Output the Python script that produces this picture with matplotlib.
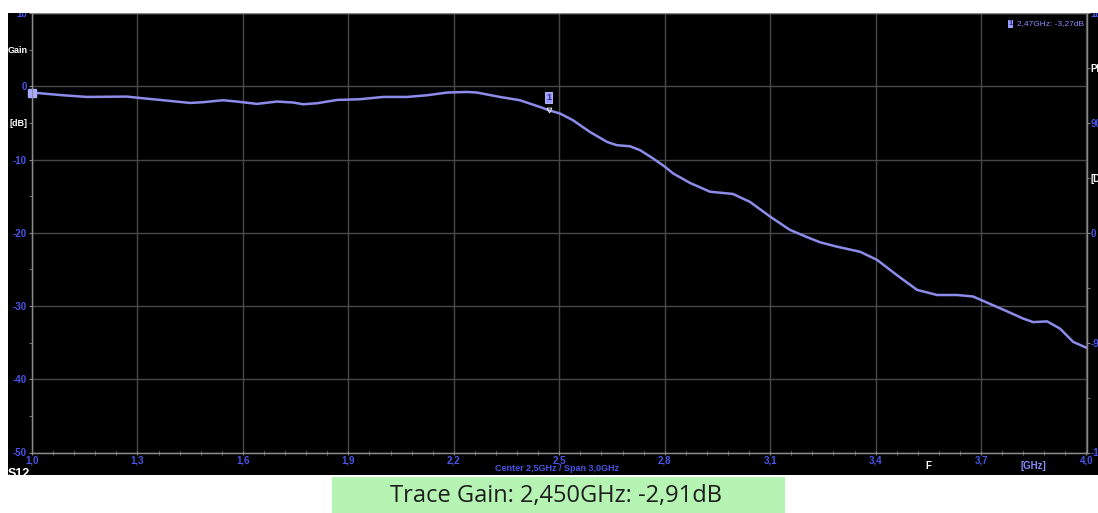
import matplotlib
matplotlib.use("Agg")
import matplotlib.pyplot as plt
from matplotlib.patches import Rectangle
from matplotlib.transforms import blended_transform_factory
import numpy as np

# Gain trace (frequency in GHz, gain in dB)
freq_ghz = [1.000, 1.088, 1.156, 1.270, 1.307, 1.373, 1.450, 1.486, 1.543, 1.583,
            1.640, 1.697, 1.743, 1.771, 1.811, 1.868, 1.933, 1.999, 2.067, 2.124,
            2.181, 2.238, 2.266, 2.331, 2.388, 2.450, 2.470, 2.502, 2.539, 2.587,
            2.636, 2.664, 2.701, 2.730, 2.767, 2.801, 2.824, 2.872, 2.929, 2.994,
            3.043, 3.100, 3.156, 3.205, 3.242, 3.290, 3.356, 3.404, 3.461, 3.518,
            3.575, 3.632, 3.677, 3.725, 3.782, 3.819, 3.848, 3.888, 3.925, 3.962,
            4.000]
gain_db = [-0.86, -1.23, -1.46, -1.41, -1.60, -1.91, -2.28, -2.18, -1.91, -2.09,
           -2.41, -2.09, -2.22, -2.46, -2.32, -1.87, -1.77, -1.46, -1.46, -1.23,
           -0.86, -0.78, -0.86, -1.46, -1.91, -2.91, -3.27, -3.72, -4.64, -6.23,
           -7.60, -8.05, -8.19, -8.73, -9.86, -11.0, -11.9, -13.2, -14.4, -14.7,
           -15.8, -17.8, -19.6, -20.6, -21.3, -21.9, -22.6, -23.7, -25.8, -27.8,
           -28.5, -28.5, -28.7, -29.7, -30.9, -31.7, -32.2, -32.1, -33.1, -34.9,
           -35.7]

marker_freq = 2.47
marker_gain = -3.27
readout_freq = 2.45
readout_gain = -2.91

x_major = [1.0, 1.3, 1.6, 1.9, 2.2, 2.5, 2.8, 3.1, 3.4, 3.7, 4.0]
x_labels = ["1,0", "1,3", "1,6", "1,9", "2,2", "2,5", "2,8", "3,1", "3,4", "3,7", "4,0"]
y_major = [-50, -40, -30, -20, -10, 0, 10]
y_labels = ["-50", "-40", "-30", "-20", "-10", "0", "10"]
y_minor = [-45, -35, -25, -15, -5, 5]
y_minor_labels = ["", "", "", "", "[dB]", "Gain"]
ph_major = [-180, -90, 0, 90, 180]
ph_labels = ["-180", "-90", "0", "90", "180"]
ph_minor = [-135, -45, 45, 135]
ph_minor_labels = ["", "", "[Deg]", "Phase"]

W, H = 1098, 513
BLUE = "#4a55e8"
TRACE = "#8c8cea"
GRID = "#484848"
SPINE = "#8a8a8a"

plt.rcParams["font.family"] = ["Liberation Sans", "DejaVu Sans"]


def fx(px):
    return px / W


def fy(py):
    return 1 - py / H


def dec(v, n):
    return f"{v:.{n}f}".replace(".", ",")


fig = plt.figure(figsize=(W / 100, H / 100), dpi=100)
fig.patch.set_facecolor("white")

# black instrument panel behind the axes
fig.patches.append(Rectangle((fx(8), fy(475)), fx(W) - fx(8), fy(13) - fy(475) + 0.02,
                             transform=fig.transFigure, facecolor="black",
                             edgecolor="none", zorder=-5))

ax = fig.add_axes([fx(32), fy(452.5), fx(1086.5) - fx(32), fy(13) - fy(452.5)])
ax.set_zorder(1)
ax.set_facecolor("black")
ax.set_xlim(1.0, 4.0)
ax.set_ylim(-50, 10)

ax.plot(freq_ghz, gain_db, color=TRACE, lw=1.8, solid_capstyle="round",
        solid_joinstyle="round", zorder=3, clip_on=False)
ax.plot([freq_ghz[0]], [gain_db[0]], marker="s", ms=6, color="#a8a8ff", zorder=4,
        clip_on=False)

# marker 1 flag
ax.annotate("1", xy=(marker_freq, marker_gain), xytext=(0, 9), textcoords="offset points",
            ha="center", va="center", fontsize=6.5, color="#2a2a90", fontweight="bold",
            bbox=dict(boxstyle="square,pad=0.12", fc="#9a9aff", ec="#c8c8ff", lw=0.6),
            zorder=5)
ax.plot([marker_freq], [marker_gain], marker="v", ms=3.5, mfc="none", mec="white",
        mew=0.6, zorder=5)

for s in ax.spines.values():
    s.set_color(SPINE)
    s.set_linewidth(1.0)

ax.set_xticks(x_major, x_labels)
ax.set_xticks(np.arange(1.0, 4.001, 0.06), minor=True)
ax.set_yticks(y_major, y_labels)
ax.set_yticks(y_minor, y_minor_labels, minor=True)
ax.grid(True, which="major", color=GRID, lw=1.0)
ax.set_axisbelow(True)
ax.tick_params(axis="x", which="both", direction="inout", length=3, color=SPINE,
               labelcolor=BLUE, labelsize=7, pad=1)
ax.tick_params(axis="y", which="both", direction="out", length=2.5, color=SPINE,
               labelcolor=BLUE, labelsize=7, pad=1.2)
ax.tick_params(axis="y", which="minor", labelcolor="white", labelsize=6.5, pad=0.6)
for t in ax.get_xticklabels() + ax.get_yticklabels(which="both"):
    t.set_fontweight("bold")

# phase axis on the right
ax2 = ax.twinx()
ax2.set_ylim(-180, 180)
ax2.set_yticks(ph_major, ph_labels)
ax2.set_yticks(ph_minor, ph_minor_labels, minor=True)
ax2.tick_params(axis="y", which="both", direction="out", length=2.5, color=SPINE,
                labelcolor=BLUE, labelsize=7, pad=0.6)
ax2.tick_params(axis="y", which="minor", labelcolor="white")
for t in ax2.get_yticklabels(which="both"):
    t.set_fontweight("bold")
for s in ax2.spines.values():
    s.set_color(SPINE)

trans = blended_transform_factory(ax.transData, ax.transAxes)
ax.text(3.55, -0.02, "F", transform=trans, ha="center", va="top", color="white",
        fontsize=7, fontweight="bold")
ax.text(3.85, -0.02, "[GHz]", transform=trans, ha="center", va="top", color="#8a8aff",
        fontsize=7, fontweight="bold")
ax.text(2.495, -0.026, "Center 2,5GHz / Span 3,0GHz", transform=trans, ha="center",
        va="top", color=BLUE, fontsize=6.5, fontweight="bold")

# active marker readout, with the marker badge just left of it
readout = ax.text(0.9976, 0.983, f"{dec(marker_freq, 2)}GHz: {dec(marker_gain, 2)}dB",
                  transform=ax.transAxes, ha="right", va="top", color="#8a8aff",
                  fontsize=6)
ax.annotate("1", xy=(0, 0.5), xycoords=readout, xytext=(-3, 0),
            textcoords="offset points", ha="right", va="center", color="#2a2a90",
            fontsize=5.5, fontweight="bold",
            bbox=dict(boxstyle="square,pad=0.1", fc="#9a9aff", ec="none"))

fig.text(fx(8), fy(474), "S12", ha="left", va="center", color="white", fontsize=9,
         fontweight="bold", zorder=2)

# page background above and below the panel
fig.patches.append(Rectangle((0, fy(12.5)), 1, 1 - fy(12.5), transform=fig.transFigure,
                             facecolor="white", edgecolor="none", zorder=10))
fig.patches.append(Rectangle((0, 0), 1, fy(475), transform=fig.transFigure,
                             facecolor="white", edgecolor="none", zorder=10))
fig.patches.append(Rectangle((fx(332), 0), fx(785) - fx(332), fy(477),
                             transform=fig.transFigure, facecolor="#b6f4b4",
                             edgecolor="none", zorder=11))
fig.text(fx(556), fy(496),
         f"Trace Gain: {dec(readout_freq, 3)}GHz: {dec(readout_gain, 2)}dB",
         ha="center", va="center", fontsize=17, color="#1e1e1e", family="Open Sans",
         zorder=12)

fig.savefig("out.png", dpi=100, facecolor=fig.get_facecolor())
